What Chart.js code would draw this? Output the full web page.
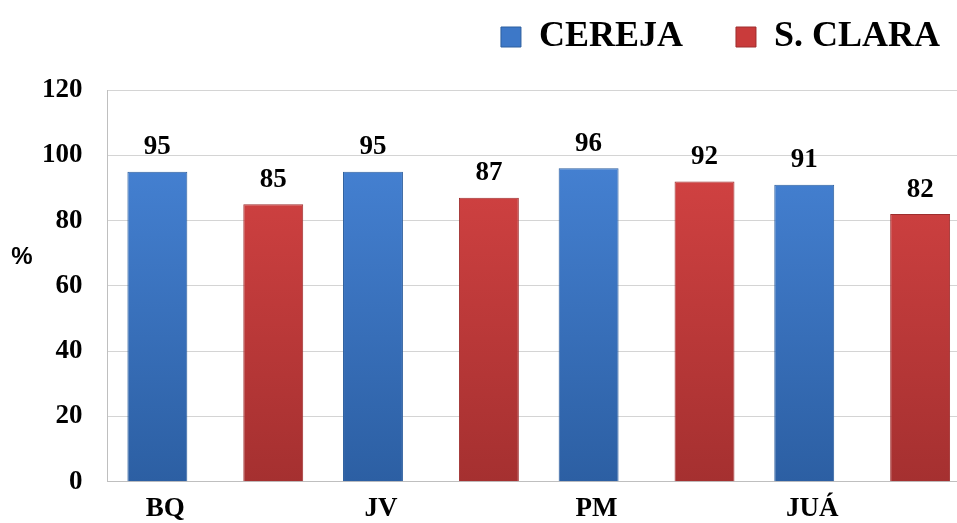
<!DOCTYPE html>
<html lang="pt">
<head>
    <meta charset="UTF-8">
    <title>CEREJA x S. CLARA</title>
    <script src="https://cdn.jsdelivr.net/npm/chart.js"></script>
    <style>
        html, body { margin: 0; padding: 0; background: #fff; overflow: hidden; }
        .wrap { width: 970px; height: 523px; }
    </style>
</head>
<body>
<div class="wrap"><canvas id="barChart"></canvas></div>

<script>
    const categories = ['BQ', 'JV', 'PM', 'JUÁ'];
    const cereja = [95, 95, 96, 91];
    const sClara = [85, 87, 92, 82];
    const yTicks = [0, 20, 40, 60, 80, 100, 120];

    const serif = "'Liberation Serif', 'Times New Roman', serif";

    function gradient(ctx, top, bottom) {
        const area = ctx.chart.chartArea;
        if (!area) return bottom;
        const g = ctx.chart.ctx.createLinearGradient(0, area.bottom, 0, area.top);
        g.addColorStop(0, bottom);
        g.addColorStop(1, top);
        return g;
    }

    // numeros em cima das barras + o "%" do eixo
    const labelsPlugin = {
        id: 'valueLabels',
        afterDatasetsDraw(chart) {
            const c = chart.ctx;
            c.save();
            c.fillStyle = '#000';
            c.font = 'bold 27px ' + serif;
            c.textAlign = 'center';
            c.textBaseline = 'bottom';
            chart.data.datasets.forEach((ds, i) => {
                chart.getDatasetMeta(i).data.forEach((bar, j) => {
                    c.fillText(ds.data[j], bar.x, bar.y - 11);
                });
            });
            c.font = 'bold 24px "Liberation Sans", Arial, sans-serif';
            c.textBaseline = 'middle';
            c.fillText('%', 22, 257);
            c.restore();
        },
        afterLayout(chart) {
            // legenda: mais para a direita e mais para cima
            chart.legend.left += 23;
            chart.legend.right += 23;
            chart.legend.top -= 34;
            chart.legend.bottom -= 34;
        }
    };

    new Chart(document.getElementById('barChart'), {
        type: 'bar',
        data: {
            labels: categories,
            datasets: [
                {
                    label: 'CEREJA',
                    data: cereja,
                    backgroundColor: ctx => gradient(ctx, '#4a88dc', '#2c5fa3'),
                    borderColor: '#2d5f9e',
                    borderWidth: 1
                },
                {
                    label: 'S. CLARA',
                    data: sClara,
                    backgroundColor: ctx => gradient(ctx, '#dc4646', '#a53030'),
                    borderColor: '#9e2e2e',
                    borderWidth: 1
                }
            ]
        },
        options: {
            responsive: true,
            maintainAspectRatio: false,
            animation: false,
            categoryPercentage: 1.075,
            barPercentage: 0.517,
            layout: { padding: { left: 17, right: 0, top: 0, bottom: -17 } },
            plugins: {
                tooltip: { enabled: false },
                legend: {
                    position: 'top',
                    align: 'end',
                    maxHeight: 90,
                    labels: {
                        color: '#000',
                        font: { family: serif, size: 36, weight: 'bold' },
                        boxWidth: 20,
                        boxHeight: 20,
                        padding: 53,
                        generateLabels(chart) {
                            const cols = ['#3d78c8', '#c93b3b'];
                            return chart.data.datasets.map((ds, i) => ({
                                text: ds.label,
                                fillStyle: cols[i],
                                strokeStyle: i ? '#9e2e2e' : '#2d5f9e',
                                lineWidth: 1,
                                datasetIndex: i
                            }));
                        }
                    }
                }
            },
            scales: {
                x: {
                    grid: { display: false, drawTicks: false },
                    border: { color: '#bfbfbf' },
                    ticks: {
                        color: '#000',
                        font: { family: serif, size: 27, weight: 'bold' },
                        labelOffset: -50,
                        padding: 11
                    }
                },
                y: {
                    min: 0,
                    max: 120,
                    afterBuildTicks(axis) {
                        axis.ticks = yTicks.map(v => ({ value: v }));
                    },
                    grid: { color: '#d4d4d4', drawTicks: false },
                    border: { color: '#bfbfbf' },
                    ticks: {
                        color: '#000',
                        font: { family: serif, size: 27, weight: 'bold' },
                        padding: 25
                    }
                }
            }
        },
        plugins: [labelsPlugin]
    });
</script>
</body>
</html>
